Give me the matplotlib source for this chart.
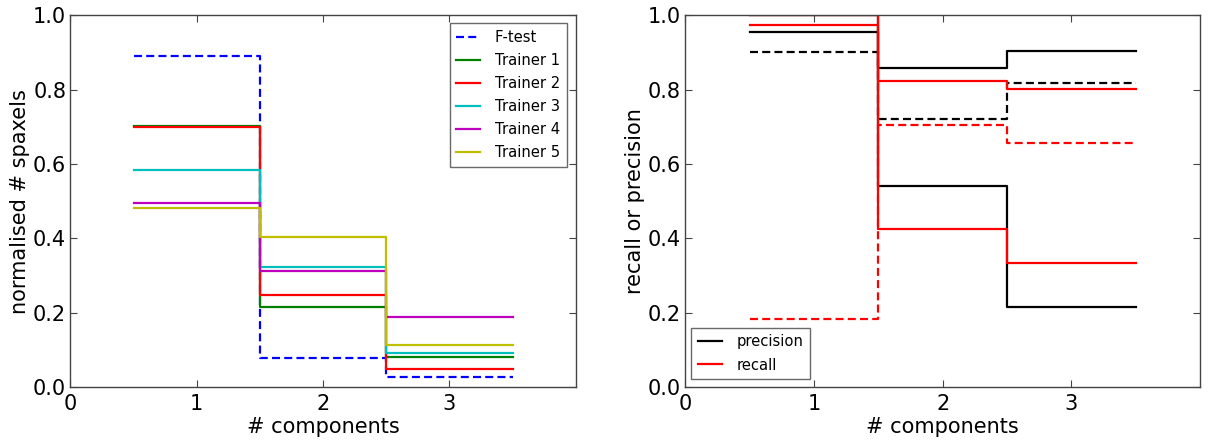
#!/usr/bin/env python3
"""Step plots: spaxel fractions per number of components, and recall / precision."""

import numpy as np
import matplotlib
matplotlib.use('Agg')
import matplotlib.pyplot as plt

# number of components (bins centred on these)
n_components = [1, 2, 3]

# left panel: normalised # spaxels
ftest = [0.891, 0.078, 0.027]
trainer1 = [0.703, 0.215, 0.081]
trainer2 = [0.700, 0.248, 0.050]
trainer3 = [0.583, 0.324, 0.093]
trainer4 = [0.496, 0.313, 0.189]
trainer5 = [0.481, 0.403, 0.115]

# right panel: recall / precision
precision_a = [0.954, 0.858, 0.903]
precision_b = [1.0, 0.541, 0.215]
precision_c = [0.901, 0.720, 0.817]   # dashed
recall_a = [0.973, 0.824, 0.803]
recall_b = [1.0, 0.425, 0.335]
recall_c = [0.183, 0.705, 0.657]      # dashed


def steps(ax, vals, **kw):
    x = np.asarray(n_components, dtype=float)
    edges = np.append(x - 0.5, x[-1] + 0.5)
    y = np.append(vals, vals[-1])
    return ax.step(edges, y, where='post', **kw)


def style_axes(ax):
    ax.set_xlim(0, 4)
    ax.set_ylim(0, 1)
    ax.set_xticks([0, 1, 2, 3])
    ax.set_yticks(np.arange(0, 1.01, 0.2))
    ax.set_yticklabels(['0.0', '0.2', '0.4', '0.6', '0.8', '1.0'])
    ax.tick_params(direction='in', top=True, right=True, length=5,
                   labelsize=15, color='#444444')
    ax.tick_params(axis='y', pad=3)
    ax.tick_params(axis='x', pad=5)
    for sp in ax.spines.values():
        sp.set_color('#444444')
        sp.set_linewidth(1.0)
    ax.set_xlabel('# components', fontsize=15, labelpad=2)


def add_legend(ax, loc, anchor):
    leg = ax.legend(loc=loc, fontsize=10.6, fancybox=False,
                    handlelength=1.6, handletextpad=1.0, borderpad=0.45,
                    labelspacing=0.55, borderaxespad=0.0,
                    bbox_to_anchor=anchor)
    leg.get_frame().set_edgecolor('#444444')
    leg.get_frame().set_linewidth(1.0)
    return leg


def main():
    fig = plt.figure(figsize=(12.09, 4.43), dpi=100)
    ax1 = fig.add_axes([0.0582, 0.1257, 0.418, 0.840])
    ax2 = fig.add_axes([0.5668, 0.1257, 0.4258, 0.840])

    lw = 1.6
    dash = (3.6, 1.9)

    # 1. fractions of spaxels
    steps(ax1, ftest, color='b', lw=lw, ls='--', dashes=dash, label='F-test')
    steps(ax1, trainer1, color=(0, 0.5, 0), lw=lw, label='Trainer 1')
    steps(ax1, trainer2, color='r', lw=lw, label='Trainer 2')
    steps(ax1, trainer3, color=(0, 0.75, 0.75), lw=lw, label='Trainer 3')
    steps(ax1, trainer4, color=(0.75, 0, 0.75), lw=lw, label='Trainer 4')
    steps(ax1, trainer5, color=(0.75, 0.75, 0), lw=lw, label='Trainer 5')
    style_axes(ax1)
    ax1.set_ylabel('normalised # spaxels', fontsize=15, labelpad=2)
    add_legend(ax1, 'upper right', (0.982, 0.978))

    # 2. recall / precision
    steps(ax2, precision_a, color='k', lw=lw, label='precision')
    steps(ax2, precision_b, color='k', lw=lw)
    steps(ax2, precision_c, color='k', lw=lw, ls='--', dashes=dash)
    steps(ax2, recall_a, color='r', lw=lw, label='recall')
    steps(ax2, recall_b, color='r', lw=lw)
    steps(ax2, recall_c, color='r', lw=lw, ls='--', dashes=dash)
    style_axes(ax2)
    ax2.set_ylabel('recall or precision', fontsize=15, labelpad=2)
    add_legend(ax2, 'lower left', (0.012, 0.022))

    fig.savefig('out.png', dpi=100)
    plt.close(fig)


if __name__ == '__main__':
    main()
